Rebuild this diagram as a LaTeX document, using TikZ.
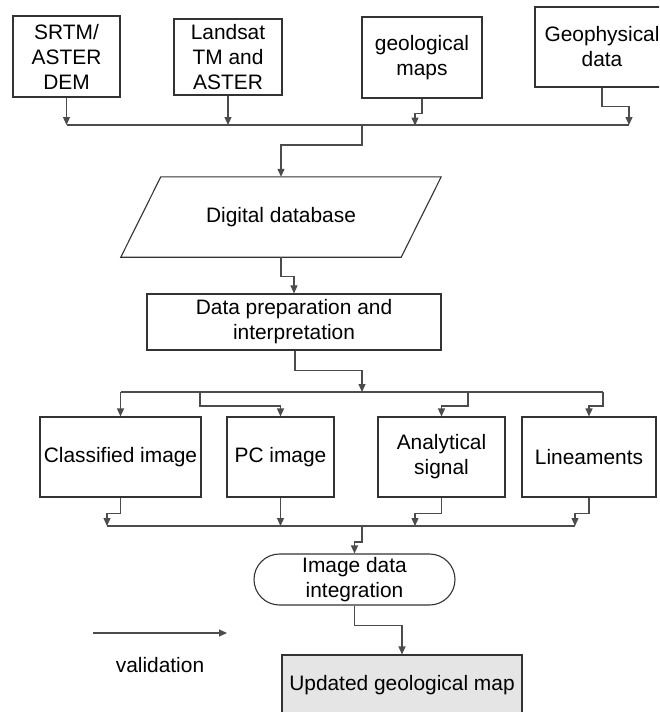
\documentclass[tikz,border=0pt]{standalone}
\usepackage{fontspec}
\setmainfont{Liberation Sans}
\usetikzlibrary{arrows.meta,calc,positioning,shapes.misc}

\tikzset{
  box/.style={draw=black!80, line width=1.1pt, inner sep=0pt, align=center, minimum height=80pt},
  conn/.style={draw=black!70, line width=1.2pt, -{Triangle[width=7pt,length=8pt]}},
  bus/.style={draw=black!70, line width=1.2pt},
}

\begin{document}
\begin{tikzpicture}[x=1pt, y=-1pt, font=\fontsize{20.9}{25}\selectfont]
        \useasboundingbox (0,0) rectangle (659,712);
        \clip (0,0) rectangle (659,712);

        % Datenquellen
        \node[box, minimum width=107pt, minimum height=81pt] (srtm) at (66.5,56.5) {SRTM/\\ASTER\\DEM};
        \node[box, minimum width=108pt, minimum height=76pt] (landsat) at (228,57) {Landsat\\TM and\\ASTER};
        \node[box, minimum width=120pt, minimum height=81pt] (geomaps) at (422,57.5) {geological\\maps};
        \node[box, minimum width=134pt, minimum height=80pt] (geophys) at (602,47) {Geophysical\\data};

        % Datenbank und Aufbereitung
        \node[minimum width=280pt, minimum height=80pt, inner sep=0pt] (digital) at (281,217) {Digital database};
        \draw[draw=black!80, line width=1.1pt] ([xshift=20pt]digital.north west) -- ([xshift=20pt]digital.north east)
            -- ([xshift=-20pt]digital.south east) -- ([xshift=-20pt]digital.south west) -- cycle;
        \node[box, minimum width=294pt, minimum height=56pt] (prep) at (294,322) {Data preparation and\\interpretation};

        % Produkte
        \node[box, minimum width=161pt] (classified) at (120.5,457) {Classified image};
        \node[box, minimum width=107pt] (pc) at (280.5,457) {PC image};
        \node[box, minimum width=127pt] (analytical) at (441.5,457) {Analytical\\signal};
        \node[box, minimum width=134pt] (lineaments) at (589,457) {Lineaments};

        % Integration und Ergebnis
        \node[draw=black!80, line width=1.1pt, rounded rectangle, minimum width=201pt, minimum height=51pt,
              inner sep=0pt, align=center] (integ) at (354.5,579.5) {Image data\\integration};
        \node[box, fill=black!10, minimum width=240pt, minimum height=60pt] (final) at (402,685) {Updated geological map};

        % Legende
        \coordinate (v1) at (93,633);
        \coordinate (v2) at (227,633);
        \draw[conn] (v1) -- (v2);
        \node (valid) at (160,665) {validation};

        % Sammelleitung oben
        \coordinate (b1l) at (67,125);
        \coordinate (b1m) at (362,125);
        \coordinate (b1r) at (629,125);
        \draw[bus] (b1l) -- (b1r);
        \draw[conn] (srtm.south) -- (srtm.south |- b1l);
        \draw[conn] (landsat.south) -- (landsat.south |- b1l);
        \draw[conn] (geomaps.south) -- ++(0,15) -- ++(-7,0) -- ++(0,12);
        \draw[conn] (geophys.south) -- ++(0,19) -| (b1r);
        \draw[conn] (b1m) -- ++(0,20) -| (digital.north);
        \draw[conn] (digital.south) -- ++(0,19) -| (prep.north);

        % Sammelleitung Mitte
        \coordinate (b2l) at (120.5,392);
        \coordinate (b2a) at (200,392);
        \coordinate (b2m) at (362,392);
        \coordinate (b2b) at (468,392);
        \coordinate (b2r) at (603,392);
        \draw[bus] (b2l) -- (b2r);
        \draw[conn] ($(prep.south)+(1,0)$) -- ++(0,20) -| (b2m);
        \draw[conn] (b2l) -- (classified.north);
        \draw[conn] (b2a) -- ++(0,14) -| (pc.north);
        \draw[conn] (b2b) -- ++(0,14) -| (analytical.north);
        \draw[conn] (b2r) -- ++(0,14) -| (lineaments.north);

        % Sammelleitung unten
        \coordinate (b3l) at (107,526);
        \coordinate (b3a) at (415,526);
        \coordinate (b3m) at (362,526);
        \coordinate (b3r) at (575,526);
        \draw[bus] (b3l) -- (b3r);
        \draw[conn] (classified.south) -- ++(0,16) -| (b3l);
        \draw[conn] (pc.south) -- (pc.south |- b3l);
        \draw[conn] (analytical.south) -- ++(0,16) -| (b3a);
        \draw[conn] (lineaments.south) -- ++(0,16) -| (b3r);
        \draw[conn] (b3m) -- ++(0,16) -| (integ.north);
        \draw[conn] (integ.south) -- ++(0,20) -| (final.north);
\end{tikzpicture}
\end{document}
